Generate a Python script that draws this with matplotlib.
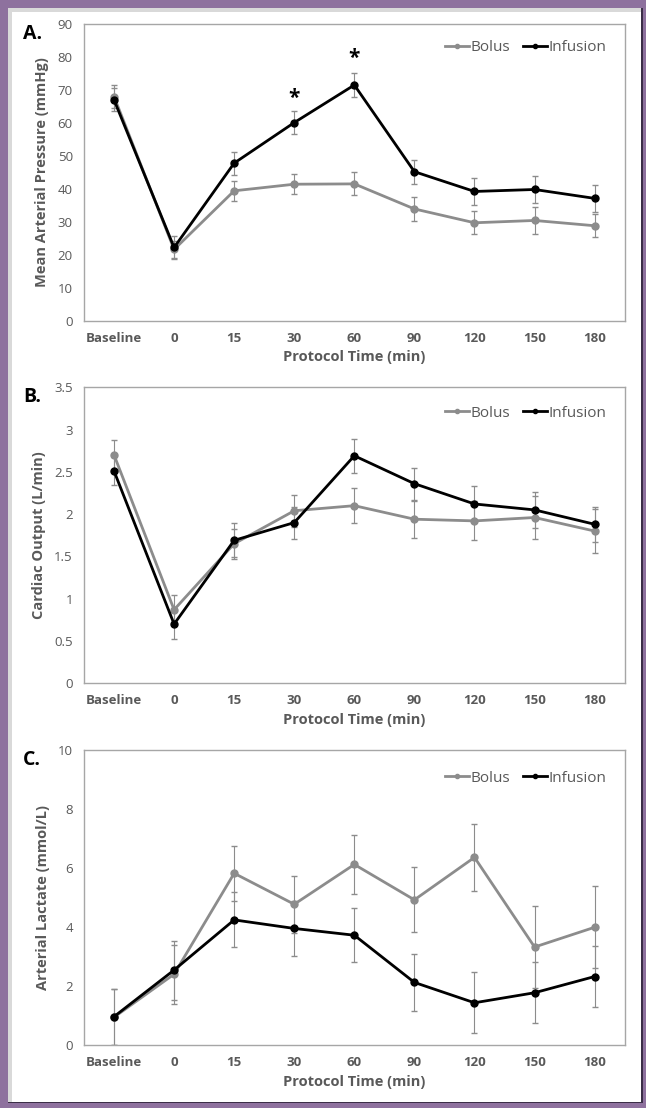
import matplotlib
matplotlib.use('Agg')
import matplotlib.pyplot as plt
from matplotlib.patches import Rectangle

plt.rcParams['font.family'] = ['Open Sans', 'DejaVu Sans']

times = ['Baseline', '0', '15', '30', '60', '90', '120', '150', '180']

# A. mean arterial pressure (mmHg)
map_bolus = [68, 21.6, 39.4, 41.4, 41.5, 33.9, 29.7, 30.4, 28.8]
map_bolus_err = [3.4, 2.7, 3.0, 3.0, 3.5, 3.7, 3.5, 4.0, 3.5]
map_inf = [67, 22.2, 47.8, 60.1, 71.5, 45.2, 39.2, 39.8, 37.1]
map_inf_err = [3.5, 3.5, 3.5, 3.4, 3.7, 3.6, 4.0, 4.0, 4.0]

# B. cardiac output (L/min)
co_bolus = [2.70, 0.87, 1.65, 2.04, 2.10, 1.94, 1.92, 1.96, 1.80]
co_bolus_err = [0.18, 0.17, 0.18, 0.19, 0.21, 0.22, 0.23, 0.25, 0.26]
co_inf = [2.51, 0.70, 1.69, 1.90, 2.69, 2.36, 2.12, 2.05, 1.88]
co_inf_err = [0.17, 0.18, 0.20, 0.19, 0.20, 0.19, 0.21, 0.21, 0.21]

# C. arterial lactate (mmol/L)
lac_bolus = [0.94, 2.40, 5.82, 4.77, 6.12, 4.92, 6.36, 3.32, 3.99]
lac_bolus_err = [0.95, 1.0, 0.94, 0.97, 1.0, 1.1, 1.14, 1.4, 1.39]
lac_inf = [0.96, 2.54, 4.24, 3.95, 3.72, 2.12, 1.43, 1.77, 2.32]
lac_inf_err = [0.95, 1.0, 0.93, 0.92, 0.92, 0.97, 1.03, 1.04, 1.04]

GRAY = '#8c8c8c'
TXT = '#595959'
W, H = 646, 1108

fig = plt.figure(figsize=(W / 100, H / 100), dpi=100, facecolor='#8e719e')

# frame: white card with dark right/bottom edge, drawn under the axes
fig.patches.append(Rectangle((8 / W, 5 / H), 635 / W, 1095 / H, transform=fig.transFigure,
                             facecolor='#3b2e47', edgecolor='none', zorder=-3))
fig.patches.append(Rectangle((8 / W, 6 / H), 633 / W, 1094 / H, transform=fig.transFigure,
                             facecolor='#d9d9d9', edgecolor='none', zorder=-2))
fig.patches.append(Rectangle((12 / W, 6 / H), 629 / W, 1090 / H, transform=fig.transFigure,
                             facecolor='white', edgecolor='none', zorder=-1))


def panel(rect, bolus, bolus_err, inf, inf_err, ylim, yticks, ylabel, tag, leg_y):
    ax = fig.add_axes(rect)
    x = range(len(times))
    ax.errorbar(x, bolus, yerr=bolus_err, fmt='none', ecolor=GRAY, elinewidth=0.8, capsize=2, zorder=2)
    ax.errorbar(x, inf, yerr=inf_err, fmt='none', ecolor=GRAY, elinewidth=0.8, capsize=2, zorder=2)
    ax.plot(x, bolus, color=GRAY, lw=2, marker='o', ms=5, label='Bolus', zorder=3)
    ax.plot(x, inf, color='black', lw=2, marker='o', ms=5, label='Infusion', zorder=4)
    ax.set_xlim(-0.5, 8.5)
    ax.set_ylim(*ylim)
    ax.set_yticks(yticks)
    ax.set_yticklabels([('%g' % v) for v in yticks])
    ax.set_xticks(list(x))
    ax.set_xticklabels(times, fontweight='bold')
    ax.tick_params(length=0, labelsize=9.5, colors=TXT, pad=8)
    for s in ax.spines.values():
        s.set_color('#a6a6a6')
        s.set_linewidth(1)
    ax.set_ylabel(ylabel, fontsize=10.5, fontweight='bold', color=TXT, labelpad=6)
    ax.set_xlabel('Protocol Time (min)', fontsize=10.5, fontweight='bold', color=TXT, labelpad=4)
    ax.legend(loc='center right', bbox_to_anchor=(0.978, leg_y), ncol=2, frameon=False,
              fontsize=11, labelcolor=TXT, handlelength=1.6, handletextpad=0.1,
              columnspacing=0.8, borderaxespad=0, markerscale=0.6)
    fig.text(23 / W, rect[1] + rect[3] - 0.009, tag, fontsize=14, fontweight='bold', color='black',
             va='center', ha='left')
    return ax


axA = panel([0.130, 0.7106, 0.837, 0.2677], map_bolus, map_bolus_err, map_inf, map_inf_err,
            (0, 90), list(range(0, 91, 10)), 'Mean Arterial Pressure (mmHg)', 'A.', 0.92)
axA.text(3, 67.5, '*', ha='center', va='center', fontsize=15, fontweight='bold')
axA.text(4, 79.6, '*', ha='center', va='center', fontsize=15, fontweight='bold')

panel([0.130, 0.3833, 0.837, 0.2672], co_bolus, co_bolus_err, co_inf, co_inf_err,
      (0, 3.5), [0, 0.5, 1, 1.5, 2, 2.5, 3, 3.5], 'Cardiac Output (L/min)', 'B.', 0.912)

panel([0.130, 0.0569, 0.837, 0.2662], lac_bolus, lac_bolus_err, lac_inf, lac_inf_err,
      (0, 10), [0, 2, 4, 6, 8, 10], 'Arterial Lactate (mmol/L)', 'C.', 0.905)

fig.savefig('out.png', dpi=100, facecolor=fig.get_facecolor())
